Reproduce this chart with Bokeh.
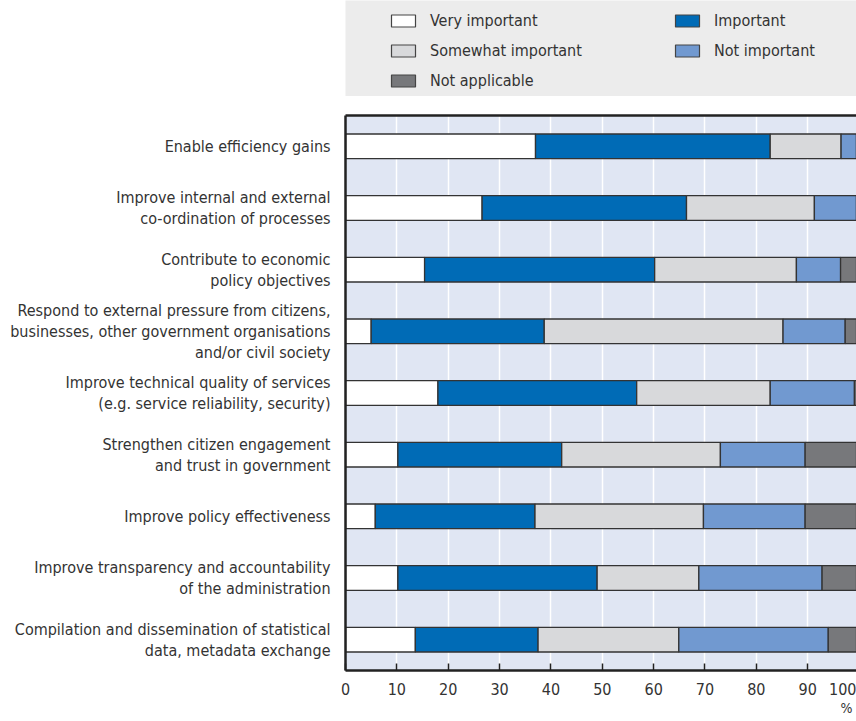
from bokeh.plotting import figure
from bokeh.models import (Range1d, FactorRange, FixedTicker, Legend, LegendItem,
                          LinearAxis, ColumnDataSource, Title)
from bokeh.layouts import column
from bokeh.embed import file_html
from bokeh.resources import INLINE

categories = [
    "Enable efficiency gains",
    "Improve internal and external\nco-ordination of processes",
    "Contribute to economic\npolicy objectives",
    "Respond to external pressure from citizens,\nbusinesses, other government organisations\nand/or civil society",
    "Improve technical quality of services\n(e.g. service reliability, security)",
    "Strengthen citizen engagement\nand trust in government",
    "Improve policy effectiveness",
    "Improve transparency and accountability\nof the administration",
    "Compilation and dissemination of statistical\ndata, metadata exchange",
]
series_names = ["Very important", "Important", "Somewhat important", "Not important", "Not applicable"]
very_important = [37.0, 26.6, 15.4, 5.0, 18.0, 10.2, 5.8, 10.2, 13.6]
important = [45.7, 39.8, 44.8, 33.7, 38.7, 31.9, 31.1, 38.8, 23.9]
somewhat_important = [13.8, 24.9, 27.6, 46.5, 26.0, 30.9, 32.8, 19.8, 27.4]
not_important = [3.5, 8.7, 8.6, 12.1, 16.4, 16.5, 19.8, 24.0, 29.1]
not_applicable = [0.0, 0.0, 3.6, 2.7, 0.9, 10.5, 10.5, 7.2, 6.0]
x_ticks = [0, 10, 20, 30, 40, 50, 60, 70, 80, 90]
last_tick = "100"
unit = "%"
colors = ["#FFFFFF", "#006BB6", "#D8D9DB", "#7199D0", "#77787B"]

FONT = "DejaVu Sans Condensed, Liberation Sans"
FS = "16px"
TXT = "#333333"
X_END = 99.5            # the frame is cut just before 100, as in the original
LAST_LABEL_AT = X_END - 2.6   # "100" is pulled inside the cut edge

series = [very_important, important, somewhat_important, not_important, not_applicable]
data = {"cat": categories}
for name, vals in zip(series_names, series):
    data[name] = vals
source = ColumnDataSource(data)

# ---------- legend strip: a numeric y range, so the category bars are not drawn here ----------
p1 = figure(width=856, height=96, output_backend="svg", toolbar_location=None,
            x_range=Range1d(0, 1), y_range=Range1d(0, 1),
            x_axis_location=None, y_axis_location=None,
            min_border_left=345, min_border_right=0, min_border_top=0, min_border_bottom=0)
p1.grid.visible = False
p1.outline_line_color = None
p1.background_fill_color = "#ECECEC"
p1.border_fill_color = "white"
leg_renderers = p1.hbar_stack(series_names, y="cat", height=0.4, color=colors, source=source,
                              line_color="#444444", line_width=1.2)
items = [LegendItem(label=n, renderers=[r]) for n, r in zip(series_names, leg_renderers)]


def mk_legend(its, loc):
    return Legend(items=its, location=loc, padding=0, spacing=10, margin=0,
                  glyph_width=30, glyph_height=15, label_height=20, label_standoff=12,
                  label_text_font=FONT, label_text_font_size=FS, label_text_color=TXT,
                  background_fill_alpha=0, border_line_color=None)


p1.add_layout(mk_legend([items[0], items[2], items[4]], (43, 6)), "center")
p1.add_layout(mk_legend([items[1], items[3]], (327, 36)), "center")

# ---------- main chart ----------
p = figure(width=856, height=625, output_backend="svg", toolbar_location=None,
           x_range=Range1d(0, X_END), y_range=FactorRange(*list(reversed(categories))),
           min_border_left=345, min_border_right=0, min_border_top=19, min_border_bottom=51)
p.background_fill_color = "#E0E6F3"
p.border_fill_color = "white"
p.outline_line_color = None

p.hbar_stack(series_names, y="cat", height=0.4, color=colors, source=source,
             line_color="#333333", line_width=1.3)

p.ygrid.visible = False
p.xgrid.ticker = FixedTicker(ticks=x_ticks)
p.xgrid.grid_line_color = "white"
p.xgrid.grid_line_width = 1.5

# axis A: axis line + inner tick marks (no labels)
p.xaxis.ticker = FixedTicker(ticks=x_ticks)
p.xaxis.axis_line_color = "#222222"
p.xaxis.axis_line_width = 2.5
p.xaxis.major_tick_in = 7
p.xaxis.major_tick_out = 0
p.xaxis.major_tick_line_color = "#222222"
p.xaxis.major_tick_line_width = 1.5
p.xaxis.minor_tick_line_color = None
p.xaxis.major_label_standoff = 0
p.xaxis.major_label_text_font_size = "1px"
p.xaxis.major_label_overrides = {t: "" for t in x_ticks}

# axis B: tick labels, including the "100" at the cut edge
label_ticks = x_ticks + [LAST_LABEL_AT]
axis_b = LinearAxis(ticker=FixedTicker(ticks=label_ticks),
                    major_label_overrides={LAST_LABEL_AT: last_tick},
                    axis_line_color=None, major_tick_line_color=None, minor_tick_line_color=None,
                    major_tick_in=0, major_tick_out=0, major_label_standoff=12,
                    major_label_text_font=FONT, major_label_text_font_size=FS,
                    major_label_text_color=TXT)
p.add_layout(axis_b, "below")

p.add_layout(Title(text=unit, align="right", offset=4, standoff=0,
                   text_font=FONT, text_font_size="14px", text_font_style="normal",
                   text_color=TXT), "below")

p.yaxis.axis_line_color = "#222222"
p.yaxis.axis_line_width = 2.5
p.yaxis.major_tick_in = 0
p.yaxis.major_tick_out = 0
p.yaxis.major_label_standoff = 15
p.yaxis.major_label_text_font = FONT
p.yaxis.major_label_text_font_size = FS
p.yaxis.major_label_text_color = TXT
p.yaxis.major_label_text_line_height = 1.1

top_axis = LinearAxis(ticker=FixedTicker(ticks=[]), axis_line_color="#222222", axis_line_width=2.5,
                      major_tick_line_color=None, minor_tick_line_color=None)
p.add_layout(top_axis, "above")

layout = column(p1, p)
open("out.html", "w").write(file_html(layout, INLINE))
